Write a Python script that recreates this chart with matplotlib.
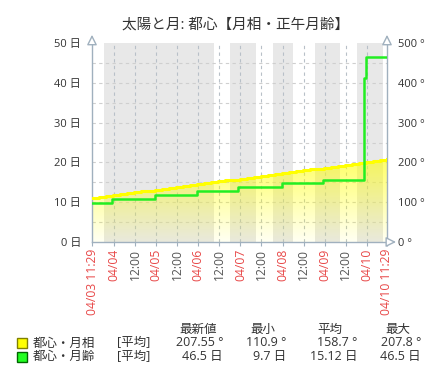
import numpy as np
import pandas as pd
import matplotlib
matplotlib.use("Agg")
import matplotlib.pyplot as plt
import matplotlib.dates as mdates
from matplotlib.patches import Rectangle

plt.rcParams['font.family'] = ['Open Sans', 'Noto Sans CJK JP', 'DejaVu Sans']

title = "太陽と月: 都心【月相・正午月齢】"
t_start = pd.Timestamp("2024-04-03 11:29")
t_end = pd.Timestamp("2024-04-10 11:29")

# 月相 (deg), every 4 hours
phase_deg = [110.9, 113.1, 115.5, 117.8, 120.0, 122.4, 124.7, 127.1, 129.3, 131.6,
             133.9, 136.3, 138.5, 140.8, 143.2, 145.4, 147.7, 150.1, 152.3, 154.6,
             156.9, 159.3, 161.5, 163.8, 166.1, 168.5, 170.7, 173.0, 175.3, 177.6,
             180.0, 182.2, 184.5, 186.8, 189.2, 191.4, 193.7, 196.0, 198.4, 200.6,
             202.9, 205.3, 207.55]
phase_times = pd.date_range(t_start, t_end, periods=len(phase_deg))

# 正午月齢 (days)
age_times = pd.to_datetime(["2024-04-03 11:29", "2024-04-03 22:40", "2024-04-04 23:20",
                            "2024-04-05 23:05", "2024-04-06 22:35", "2024-04-07 23:30",
                            "2024-04-08 23:05", "2024-04-09 22:30", "2024-04-09 23:40",
                            "2024-04-10 11:29"])
age_days = [9.7, 10.7, 11.7, 12.7, 13.7, 14.7, 15.7, 41.2, 46.5, 46.5]

# shaded periods
bands = [("2024-04-03 18:20", "2024-04-06 09:00"),
         ("2024-04-06 18:05", "2024-04-07 08:55"),
         ("2024-04-07 18:35", "2024-04-08 06:00"),
         ("2024-04-08 18:30", "2024-04-09 08:45"),
         ("2024-04-09 18:25", "2024-04-10 09:15")]

legend_names = ["都心・月相", "都心・月齢"]
legend_colors = ["#ffff00", "#22ff22"]
legend_edges = ["#808000", "#006600"]
stat_heads = ["最新値", "最小", "平均", "最大"]
stat_rows = [["207.55 °", "110.9 °", "158.7 °", "207.8 °"],
             ["46.5 日", "9.7 日", "15.12 日", "46.5 日"]]

spine_c = "#a0b0be"
txt_c = "#333333"

fig = plt.figure(figsize=(4.46, 3.80), dpi=100)
ax = fig.add_axes([92 / 446, 1 - 242 / 380, 295 / 446, 199 / 380])
ax2 = ax.twinx()

x0, x1 = mdates.date2num(t_start), mdates.date2num(t_end)
ax.set_xlim(x0, x1)
ax.set_ylim(0, 500)
ax2.set_ylim(0, 50)

for a, b in bands:
    ax.axvspan(pd.Timestamp(a), pd.Timestamp(b), color="#e8e8e8", lw=0, zorder=0)

xticks = [t_start] + list(pd.date_range("2024-04-04 00:00", "2024-04-10 00:00", freq="12h")) + [t_end]
ax.set_xticks(xticks)
labels = []
for i, t in enumerate(xticks):
    if i == 0 or i == len(xticks) - 1:
        labels.append(t.strftime("%m/%d %H:%M"))
    elif t.hour == 0:
        labels.append(t.strftime("%m/%d"))
    else:
        labels.append("12:00")
ax.set_xticklabels(labels, rotation=90, fontsize=8.7)
for lab in ax.get_xticklabels():
    lab.set_color("#555555" if lab.get_text() == "12:00" else "#e84848")

for t in xticks[1:-1]:
    ax.axvline(t, color="#b8c0c8", lw=0.8, ls=(0, (3, 3)), zorder=1)
for v in range(50, 500, 50):
    ax.axhline(v, color="#cfcfcf", lw=0.8, ls=(0, (3, 3)), zorder=1)

ax.set_yticks(range(0, 501, 100))
ax.set_yticklabels([f"{v} °" for v in range(0, 501, 100)], fontsize=8, color=txt_c)
ax.yaxis.tick_right()
ax2.set_yticks(range(0, 51, 10))
ax2.set_yticklabels([f"{v} 日" for v in range(0, 51, 10)], fontsize=8, color=txt_c)
ax2.yaxis.tick_left()
ax.tick_params(axis="y", length=0, pad=8)
ax2.tick_params(axis="y", length=0, pad=8)
ax.tick_params(axis="x", length=3, color=spine_c, pad=2)

# gradient fill under 月相
xs = mdates.date2num(phase_times)
poly = ax.fill_between(xs, 0, phase_deg, step="post", color="none", lw=0)
grad = np.zeros((256, 2, 4))
grad[:, :, 0] = 1.0
grad[:, :, 1] = 1.0
grad[:, :, 2] = 0.0
grad[:, :, 3] = np.linspace(0.62, 0.05, 256)[:, None]
im = ax.imshow(grad, extent=[x0, x1, 0, 215], aspect="auto", origin="upper", zorder=2)
im.set_clip_path(poly.get_paths()[0], transform=ax.transData)
ax.set_ylim(0, 500)
ax.set_xlim(x0, x1)

ax.plot(xs, phase_deg, drawstyle="steps-post", color="#ffff00", lw=2.2, zorder=3)
ax2.plot(mdates.date2num(age_times), age_days, drawstyle="steps-post", color="#22ee22", lw=1.8, zorder=3)

for a in (ax, ax2):
    for s in a.spines.values():
        s.set_visible(False)
for s in ("left", "right", "bottom"):
    ax.spines[s].set_visible(True)
    ax.spines[s].set_color(spine_c)
    ax.spines[s].set_linewidth(1.0)

arrow = dict(arrowstyle="-|>,head_length=0.6,head_width=0.3", fc="white", ec=spine_c, lw=1.0)
ax.annotate("", xy=(0, 1.055), xytext=(0, 0.99), xycoords="axes fraction", arrowprops=arrow)
ax.annotate("", xy=(1, 1.055), xytext=(1, 0.99), xycoords="axes fraction", arrowprops=arrow)
ax.annotate("", xy=(1.04, 0), xytext=(0.99, 0), xycoords="axes fraction", arrowprops=arrow)

fig.text(236 / 446, 1 - 25 / 380, title, ha="center", va="center", fontsize=10.5, color=txt_c)

# legend table
head_x = [198, 263, 330, 398]
for hx, h in zip(head_x, stat_heads):
    fig.text(hx / 446, 1 - 329 / 380, h, ha="center", va="center", fontsize=9, color=txt_c)
row_y = [343, 356.5]
val_x = [223, 286, 357, 421]
for ry, name, fc, ec, vals in zip(row_y, legend_names, legend_colors, legend_edges, stat_rows):
    fig.patches.append(Rectangle((17 / 446, 1 - (ry + 5) / 380), 10 / 446, 10 / 380,
                                 transform=fig.transFigure, fc=fc, ec=ec, lw=1.0))
    fig.text(33 / 446, 1 - ry / 380, name, ha="left", va="center", fontsize=9, color=txt_c)
    fig.text(117 / 446, 1 - ry / 380, "[平均]", ha="left", va="center", fontsize=9, color=txt_c)
    for vx, v in zip(val_x, vals):
        fig.text(vx / 446, 1 - ry / 380, v, ha="right", va="center", fontsize=9, color=txt_c)

fig.savefig("out.png", dpi=100)
